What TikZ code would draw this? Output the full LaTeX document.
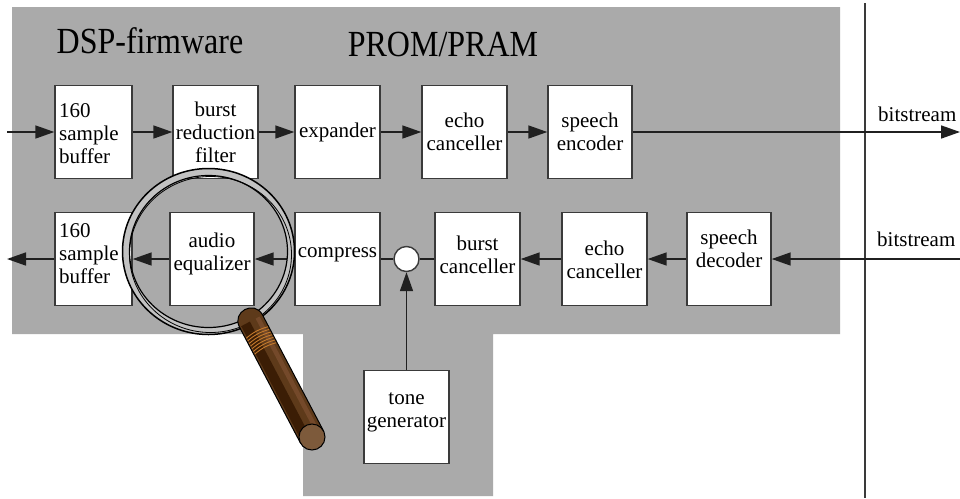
\documentclass[tikz,border=0pt]{standalone}
\usepackage{fontspec}
\setmainfont{Liberation Serif}
\usetikzlibrary{arrows.meta,calc}
\definecolor{panel}{HTML}{AAAAAA}
\definecolor{boxline}{HTML}{3A3A3A}
\definecolor{linecol}{HTML}{202020}
\definecolor{ringgray}{HTML}{C2C2C2}
\definecolor{handlemid}{HTML}{5E3A1A}
\definecolor{handledark}{HTML}{3B1D05}
\definecolor{handlelight}{HTML}{74492A}
\definecolor{capbrown}{HTML}{7D5A3B}
\definecolor{gripcol}{HTML}{C47A2C}
\begin{document}
\begin{tikzpicture}[x=1pt,y=-1pt,
  blk/.style={draw=boxline, line width=1.4pt, fill=white, minimum width=85pt,
    minimum height=93pt, inner sep=0pt, font=\fontsize{21}{23}\selectfont, align=center},
  txt/.style={font=\fontsize{21}{23}\selectfont, align=center, inner sep=0pt},
  title/.style={font=\fontsize{32}{36}\selectfont, inner sep=0pt},
  flow/.style={draw=linecol, line width=1.6pt, -{Triangle[length=19pt,width=13pt]}},
  wire/.style={draw=linecol, line width=1.6pt},
  junction/.style={circle, draw=boxline, line width=1.4pt, fill=white, minimum size=25pt, inner sep=0pt}]
\useasboundingbox (0,0) rectangle (960,498);
\fill[white] (0,0) rectangle (960,498);

% firmware panel
\fill[panel] (12,7) -- (840,7) -- (840,334) -- (493,334) -- (493,496)
  -- (303,496) -- (303,334) -- (12,334) -- cycle;

% boundary line
\draw[draw=boxline, line width=1.5pt] (865,3) -- (865,498);

% titles
\node[title] (dsp) at (150,41) {\scalebox{1}[1.15]{DSP-firmware}};
\node[title] (prom) at (443,44) {\scalebox{1}[1.15]{PROM/PRAM}};

% transmit chain
\node[blk, minimum width=77pt] (buf1) at (93.5,132) {};
\node[txt, align=left, anchor=west] (buf1t) at (59,134) {160\\sample\\buffer};
\node[blk] (brf) at (215.5,132) {burst\\reduction\\filter};
\node[blk] (exp) at (337.5,132) {expander};
\node[blk] (echo1) at (464.5,132) {echo\\canceller};
\node[blk, minimum width=84pt] (enc) at (590,132) {speech\\encoder};

% receive chain
\node[blk, minimum width=77pt] (buf2) at (93.5,259) {};
\node[txt, align=left, anchor=west] (buf2t) at (59,254) {160\\sample\\buffer};
\node[blk, minimum width=84pt] (eq) at (212,259) {};
\node[txt] (eqt) at (212,254) {audio\\equalizer};
\node[blk] (cmp) at (337.5,259) {};
\node[txt] (cmpt) at (337.5,255) {compress};
\node[junction] (jn) at (406.5,259) {};
\node[blk] (bc) at (477.5,259) {};
\node[txt] (bct) at (477.5,255) {burst\\canceller};
\node[blk] (echo2) at (604.5,259) {};
\node[txt] (echo2t) at (604.5,260) {echo\\canceller};
\node[blk, minimum width=84pt] (dec) at (729,259) {};
\node[txt] (dect) at (729,249) {speech\\decoder};
\node[blk] (tone) at (406.5,417) {};
\node[txt] (tonet) at (406.5,412) {tone\\generator};

% bitstream labels
\node[txt, anchor=base west] (bs1) at (878,121) {bitstream};
\node[txt, anchor=base west] (bs2) at (877,246) {bitstream};

% free ends
\coordinate (inL) at (7,132);
\coordinate (outR) at (960,132);
\coordinate (outL) at (7,259);
\coordinate (inR) at (960,259);

% transmit connectors
\draw[flow] (inL) -- (buf1.west);
\draw[flow] (buf1.east) -- (brf.west);
\draw[flow] (brf.east) -- (exp.west);
\draw[flow] (exp.east) -- (echo1.west);
\draw[flow] (echo1.east) -- (enc.west);
\draw[flow] (enc.east) -- (outR);

% receive connectors
\draw[flow] (inR) -- (dec.east);
\draw[flow] (dec.west) -- (echo2.east);
\draw[flow] (echo2.west) -- (bc.east);
\draw[wire] (bc.west) -- (jn.east);
\draw[wire] (jn.west) -- (cmp.east);
\draw[flow] (cmp.west) -- (eq.east);
\draw[flow] (eq.west) -- (buf2.east);
\draw[flow] (buf2.west) -- (outL);
\draw[flow] (tone.north) -- (jn.south);

% magnifying glass: lens ring
\coordinate (lens) at (208.5,251.5);
\fill[ringgray, even odd rule] (lens) ellipse [x radius=86pt, y radius=83pt]
  (lens) ellipse [x radius=79pt, y radius=76pt];
\draw[black, line width=1.5pt] (lens) ellipse [x radius=86pt, y radius=83pt];
\draw[black, line width=1.2pt] (lens) ellipse [x radius=79pt, y radius=76pt];
\draw[black, line width=0.8pt] ([shift={(2,3)}]lens) ellipse [x radius=81pt, y radius=78pt];

% magnifying glass: handle
\coordinate (hT) at (251,321);
\coordinate (hB) at (312,437);
\fill[handlemid] (239.5,327.1) -- (300.5,443.1) -- (323.5,430.9) -- (262.5,314.9)
  .. controls (254.4,299.6) and (231.4,311.8) .. (239.5,327.1) -- cycle;
\fill[handledark] (241.2,326.2) -- (302.2,442.2) -- (310.9,437.6) -- (249.9,321.6) -- cycle;
\fill[handlelight] (255.6,318.6) -- (316.6,434.6) -- (320.6,432.5) -- (259.6,316.5) -- cycle;
\foreach \k in {13,16,19,22,25,28,31}{
  \coordinate (g) at ($(hT)!\k/131!(hB)$);
  \draw[gripcol, line width=0.9pt] ($(g)+(-10.9,5.8)$) to[bend left=12] ($(g)+(10.9,-5.8)$);
}
\draw[black, line width=1pt] (239.5,327.1) -- (300.5,443.1) -- (323.5,430.9) -- (262.5,314.9)
  .. controls (254.4,299.6) and (231.4,311.8) .. (239.5,327.1) -- cycle;
\filldraw[fill=capbrown, draw=black, line width=1pt] (hB) circle (13pt);
\end{tikzpicture}
\end{document}
